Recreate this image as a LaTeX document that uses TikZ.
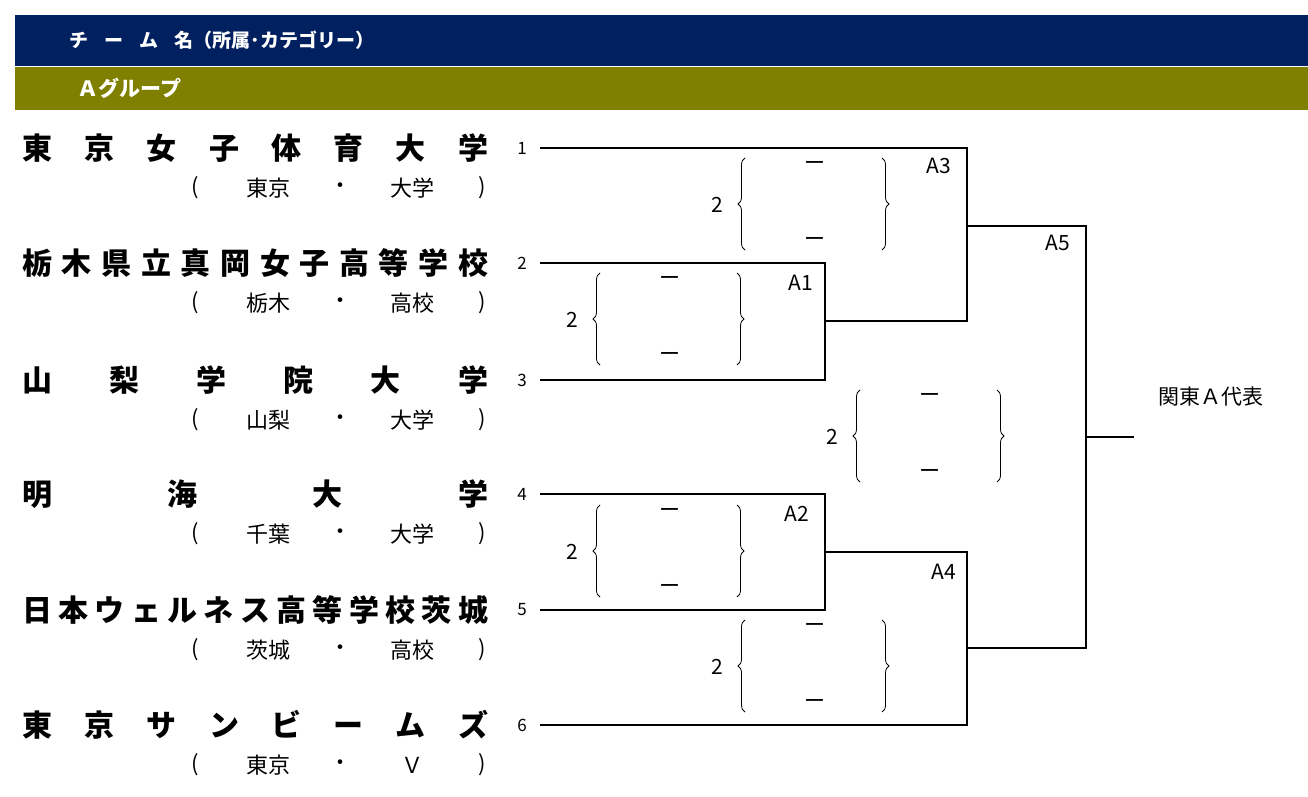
\documentclass[tikz,border=0pt]{standalone}
\usepackage{fontspec}
\setmainfont{Noto Sans CJK JP}
\usetikzlibrary{decorations.pathreplacing}
\definecolor{navy}{HTML}{002060}
\definecolor{olive}{HTML}{808000}
\tikzset{x=1pt,y=-1pt,
 nm/.style={anchor=west,inner sep=0,font=\fontsize{30}{30}\selectfont\bfseries},
 sub/.style={inner sep=0,font=\fontsize{22}{22}\selectfont},
 num/.style={inner sep=0,font=\fontsize{17}{17}\selectfont},
 lbl/.style={inner sep=0,font=\fontsize{21}{21}\selectfont},
 ln/.style={line width=1.3pt},
 br/.style={decorate,decoration={brace,amplitude=7pt},line width=0.8pt}}
\newcommand{\scoreset}[3]{% x of left brace, top y, id
 \draw[br] (#1,#2+92) -- (#1,#2);
 \draw[br] (#1+137,#2) -- (#1+137,#2+92);
 \node[lbl] (d#3a) at (#1+70,#2+8) {ー};
 \node[lbl] (d#3b) at (#1+70,#2+84) {ー};
 \node[lbl] (s#3) at (#1-28,#2+47) {2};}
\begin{document}
\begin{tikzpicture}
\useasboundingbox (0,0) rectangle (1308,797);
\fill[navy] (15,15) rectangle (1308,66);
\fill[olive] (15,67) rectangle (1308,110);
\node[anchor=west,text=white,font=\fontsize{19}{19}\selectfont\bfseries] (h1) at (66,40) {チ\hspace{16pt}ー\hspace{16pt}ム\hspace{16pt}名（所属･カテゴリー）};
\node[anchor=west,text=white,font=\fontsize{21}{21}\selectfont\bfseries] (h2) at (74,88) {Ａグループ};
\foreach \y/\n/\c/\t [count=\i] in {
 148/{東\hfill 京\hfill 女\hfill 子\hfill 体\hfill 育\hfill 大\hfill 学}/東京/大学,
 263/{栃\hfill 木\hfill 県\hfill 立\hfill 真\hfill 岡\hfill 女\hfill 子\hfill 高\hfill 等\hfill 学\hfill 校}/栃木/高校,
 380/{山\hfill 梨\hfill 学\hfill 院\hfill 大\hfill 学}/山梨/大学,
 494/{明\hfill 海\hfill 大\hfill 学}/千葉/大学,
 610/{日\hfill 本\hfill ウ\hfill ェ\hfill ル\hfill ネ\hfill ス\hfill 高\hfill 等\hfill 学\hfill 校\hfill 茨\hfill 城}/茨城/高校,
 725/{東\hfill 京\hfill サ\hfill ン\hfill ビ\hfill ー\hfill ム\hfill ズ}/東京/Ｖ}{
 \node[nm] (n\i) at (22,\y) {\makebox[466pt][s]{\n}};
 \node[sub] (pl\i) at (195,\y+40) {(};
 \node[sub] (c\i) at (268,\y+40) {\c};
 \node[sub] (dt\i) at (340,\y+40) {・};
 \node[sub] (t\i) at (412,\y+40) {\t};
 \node[sub] (pr\i) at (482,\y+40) {)};
 \node[num] (k\i) at (522,\y) {\i};
 \coordinate (p\i) at (540,\y);
}
\coordinate (a1) at (825,321); \coordinate (a2) at (825,552);
\coordinate (a3) at (967,226); \coordinate (a4) at (967,648);
\coordinate (a5) at (1086,437); \coordinate (w) at (1134,437);
\draw[ln] (p1) -- (p1 -| a3) -- (a3) -- (a3 -| a5) -- (a5);
\draw[ln] (p2) -- (p2 -| a1) -- (p3 -| a1) -- (p3);
\draw[ln] (a1) -- (a1 -| a3) -- (a3);
\draw[ln] (p4) -- (p4 -| a2) -- (p5 -| a2) -- (p5);
\draw[ln] (a2) -- (a2 -| a4) -- (a4);
\draw[ln] (p6) -- (p6 -| a4) -- (a4) -- (a4 -| a5) -- (a5) -- (w);
\node[lbl,anchor=west] (rep) at (1158,397) {関東Ａ代表};
\node[lbl] (L3) at (939,166) {A3};
\node[lbl] (L5) at (1058,243) {A5};
\node[lbl] (L1) at (801,283) {A1};
\node[lbl] (L2) at (797,514) {A2};
\node[lbl] (L4) at (944,572) {A4};
\scoreset{745}{158}{3}
\scoreset{600}{273}{1}
\scoreset{860}{390}{5}
\scoreset{600}{505}{2}
\scoreset{745}{620}{4}
\end{tikzpicture}
\end{document}
